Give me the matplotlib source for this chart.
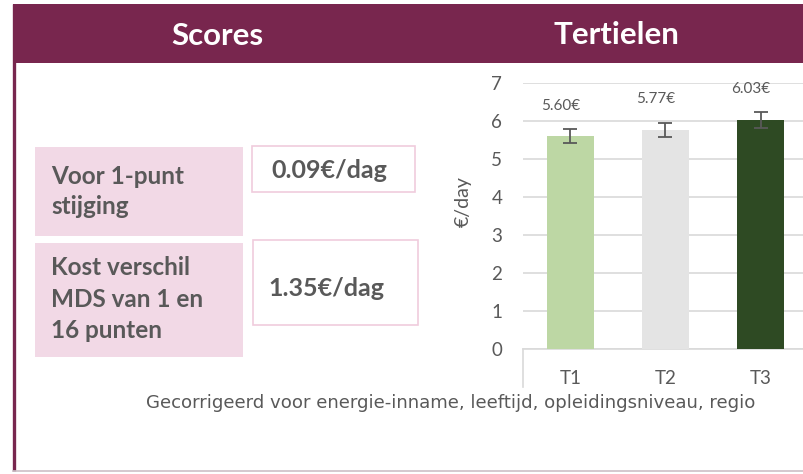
import numpy as np
import matplotlib
matplotlib.use("Agg")
import matplotlib.pyplot as plt
from matplotlib.patches import Rectangle

# data
categories = ["T1", "T2", "T3"]
values = [5.60, 5.77, 6.03]
errors = [0.18, 0.19, 0.21]
value_labels = ["5.60€", "5.77€", "6.03€"]
bar_colors = ["#BDD7A4", "#E4E4E4", "#2E4A23"]
yticks = [0, 1, 2, 3, 4, 5, 6, 7]

score_labels = [["Voor 1-punt", "stijging"], ["Kost verschil", "MDS van 1 en", "16 punten"]]
score_values = ["0.09€/dag", "1.35€/dag"]

titles = ["Scores", "Tertielen"]
footnote = "Gecorrigeerd voor energie-inname, leeftijd, opleidingsniveau, regio"

MAROON = "#78264E"
PINK = "#F2D9E6"
PINK_EDGE = "#F0CCDD"
GREY = "#595959"
W, H = 804, 474

fig = plt.figure(figsize=(W / 100, H / 100), dpi=100)

# background axes in pixel coordinates
bg = fig.add_axes([0, 0, 1, 1])
bg.set_xlim(0, W)
bg.set_ylim(H, 0)
bg.axis("off")

bg.add_patch(Rectangle((13, 4), W - 13, 59, color=MAROON, lw=0))
bg.plot([14.5, 14.5], [4, 471], color=MAROON, lw=2.4, solid_capstyle="butt")
bg.plot([13, W], [471, 471], color="#CDBFC6", lw=1.2)

bg.text(217, 36, titles[0], color="white", fontsize=22.5, fontweight="bold",
        family="Lato", ha="center", va="center")
bg.text(616, 35, titles[1], color="white", fontsize=22.5, fontweight="bold",
        family="Lato", ha="center", va="center")

# pink label boxes + value boxes
label_boxes = [(35, 147, 208, 89), (35, 243, 208, 114)]
value_boxes = [(252, 146, 163, 46), (253, 240, 165, 85)]
label_baselines = [[184, 214], [275, 307, 338]]
value_baselines = [178, 296]
value_x = [271, 268]

for i in range(2):
    x, y, w, h = label_boxes[i]
    bg.add_patch(Rectangle((x, y), w, h, facecolor=PINK, edgecolor="none"))
    for line, yb in zip(score_labels[i], label_baselines[i]):
        bg.text(51, yb, line, color=GREY, fontsize=17.5, fontweight="bold",
                family="Lato", ha="left", va="baseline")
    x, y, w, h = value_boxes[i]
    bg.add_patch(Rectangle((x, y), w, h, facecolor="white", edgecolor=PINK_EDGE, lw=1.2))
    bg.text(value_x[i], value_baselines[i], score_values[i], color=GREY, fontsize=18,
            fontweight="bold", family="Lato", ha="left", va="baseline")

bg.text(146, 408, footnote, color=GREY, fontsize=13.1, family="DejaVu Sans",
        ha="left", va="baseline")
bg.text(463, 202, "€/day", color=GREY, fontsize=14, family="Lato",
        rotation=90, ha="center", va="center")

# bar chart
left, right, top, bottom = 523, 808, 83, 349
ax = fig.add_axes([left / W, (H - bottom) / H, (right - left) / W, (bottom - top) / H])
ax.set_facecolor("none")
x = np.arange(len(categories))
ax.bar(x, values, width=0.5, color=bar_colors, zorder=3)
ax.errorbar(x, values, yerr=errors, fmt="none", ecolor=GREY, elinewidth=1.3,
            capsize=5, capthick=1.3, zorder=4)
for xi, v, lab in zip(x, values, value_labels):
    ax.annotate(lab, (xi, v), xytext=(-7, 22), textcoords="offset points",
                ha="center", va="center", fontsize=11, color=GREY, family="Lato")

ax.set_xlim(-0.5, 2.5)
ax.set_ylim(0, 7)
ax.set_yticks(yticks)
ax.set_xticks(x)
ax.set_xticklabels(categories)
ax.grid(axis="y", color="#D9D9D9", lw=1.2, zorder=0)
ax.tick_params(length=0, labelsize=13.5, labelcolor=GREY, pad=15)
for lab in ax.get_xticklabels() + ax.get_yticklabels():
    lab.set_family("Lato")
for s in ["top", "right", "left"]:
    ax.spines[s].set_visible(False)
ax.spines["bottom"].set_color("#D9D9D9")
ax.spines["bottom"].set_linewidth(1.2)
ax.plot([-0.5, -0.5], [0, -1.0], color="#D9D9D9", lw=1.2, clip_on=False)

fig.savefig("out.png", dpi=100)
